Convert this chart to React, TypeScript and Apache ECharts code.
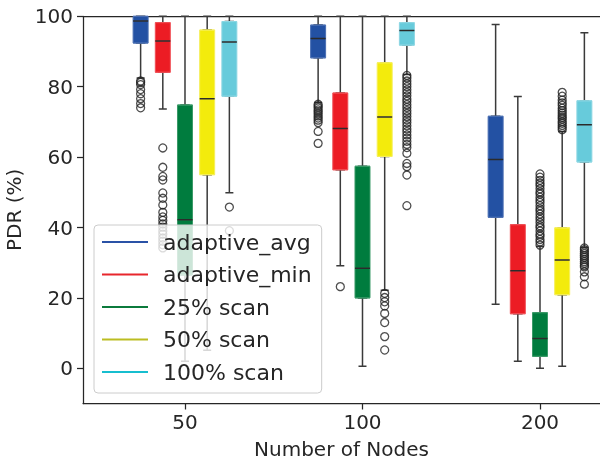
import React, { useEffect, useRef } from 'react';
import * as echarts from 'echarts';

const groups = ['50', '100', '200'];
const seriesNames = ['adaptive_avg', 'adaptive_min', '25% scan', '50% scan', '100% scan'];
const boxColors = ['#2351a3', '#ec1c24', '#007c3e', '#f3eb0c', '#67cbdb'];
const boxEdgeColors = ['#4a6fb3', '#f04f55', '#3a9a68', '#f6ef5a', '#8dd7e3'];
const legendColors = ['#2a52a6', '#e8262c', '#0b7a3c', '#bcbd22', '#17becf'];
const yTicks = [0, 20, 40, 60, 80, 100];

// [min, Q1, median, Q3, max] for groups 50, 100, 200
const adaptiveAvgStats = [
  [82.5, 92.4, 98.7, 100, 100],
  [75.5, 88.2, 93.7, 97.5, 100],
  [18.2, 42.9, 59.3, 71.6, 97.7],
];
const adaptiveMinStats = [
  [73.7, 84.1, 93.0, 98.2, 100],
  [29.1, 56.4, 68.1, 78.2, 100],
  [2.0, 15.5, 27.7, 40.8, 77.2],
];
const scan25Stats = [
  [2.0, 26.5, 42.2, 74.8, 100],
  [0.6, 20.0, 28.4, 57.4, 100],
  [0.0, 3.4, 8.5, 15.8, 34.6],
];
const scan50Stats = [
  [5.1, 55.0, 76.6, 96.1, 100],
  [22.2, 60.2, 71.4, 86.8, 100],
  [0.6, 20.9, 30.8, 39.9, 67.3],
];
const scan100Stats = [
  [49.9, 77.3, 92.7, 98.5, 100],
  [83.5, 91.8, 96.0, 98.2, 100],
  [34.4, 58.6, 69.2, 76.0, 95.3],
];

// outliers for groups 50, 100, 200
const adaptiveAvgOutliers = [
  [81.6, 81.2, 80.6, 79.2, 78.0, 76.6, 75.2, 74.0],
  [75.0, 74.5, 74.0, 73.4, 72.9, 72.3, 71.7, 71.1, 70.5, 69.8, 67.3, 63.9],
  [],
];
const adaptiveMinOutliers = [
  [62.6, 57.1, 54.5, 53.5, 49.8, 48.3, 46.4, 44.3, 43.0, 42.0, 41.0, 40.1, 39.0, 38.1, 37.0, 36.1, 35.1, 34.2],
  [23.2],
  [],
];
const scan25Outliers = [
  [],
  [],
  [35.0, 35.9, 36.6, 37.5, 38.1, 39.0, 39.9, 40.5, 41.4, 42.3, 43.0, 43.8, 44.7, 45.3, 46.2, 47.1, 47.8, 48.6, 49.5, 50.1, 51.0, 51.9, 52.6, 53.4, 54.3, 55.2],
];
const scan50Outliers = [
  [],
  [21.3, 20.1, 18.9, 17.7, 15.6, 13.0, 9.0, 5.2],
  [67.8, 68.4, 69.0, 69.6, 70.1, 70.8, 71.3, 71.9, 72.5, 73.2, 73.9, 74.7, 75.4, 76.2, 77.3, 78.4],
];
const scan100Outliers = [
  [45.8, 39.1],
  [83.2, 82.5, 81.6, 80.8, 80.0, 79.1, 78.3, 77.4, 76.5, 75.8, 74.9, 74.1, 73.2, 72.4, 71.5, 70.6, 69.8, 68.9, 68.0, 67.2, 66.3, 65.4, 64.5, 63.6, 62.7, 61.1, 58.2, 57.3, 54.9, 46.2],
  [34.2, 33.7, 33.1, 32.6, 32.0, 31.5, 30.9, 30.3, 29.8, 29.2, 28.8, 27.4, 26.0, 23.9],
];

const statsBySeries = [adaptiveAvgStats, adaptiveMinStats, scan25Stats, scan50Stats, scan100Stats];
const outliersBySeries = [adaptiveAvgOutliers, adaptiveMinOutliers, scan25Outliers, scan50Outliers, scan100Outliers];

const FONT = 'DejaVu Sans';
const TEXT = '#262626';
const DODGE = 0.125;

export default function App() {
  const ref = useRef<HTMLDivElement>(null);
  useEffect(() => {
    if (!ref.current) return;
    const chart = echarts.init(ref.current, undefined, { renderer: 'svg' });
    const xPos = (g: number, k: number) => g + (k - 2) * DODGE;

    const whiskerData: any[] = [];
    const boxData: any[] = [];
    const medianData: any[] = [];
    const outlierData: any[] = [];
    statsBySeries.forEach((stats, k) => {
      stats.forEach((s, g) => {
        const x = xPos(g, k);
        const [mn, q1, med, q3, mx] = s;
        whiskerData.push([x, mn, q1, med, q3, mx]);
        boxData.push({
          value: [x, q1, q1, med, q3, q3],
          itemStyle: { color: boxColors[k], borderColor: boxEdgeColors[k], borderWidth: 1 },
        });
        medianData.push([x, med, med, med, med, med]);
        outliersBySeries[k][g].forEach((v) => outlierData.push([x, v]));
      });
    });

    const xMin = -0.5746;
    const xMax = 2.338;
    const baseX = { type: 'value', min: xMin, max: xMax, splitLine: { show: false } };

    chart.setOption({
      animation: false,
      textStyle: { fontFamily: FONT },
      grid: { left: 83, right: 0, top: 16.3, bottom: 55.5, containLabel: false, outerBoundsMode: 'none' },
      xAxis: [
        {
          ...baseX,
          position: 'bottom',
          axisLine: { show: true, onZero: false, lineStyle: { color: TEXT, width: 1.25 } },
          axisTick: { show: true, customValues: [0, 1, 2], length: 6, lineStyle: { color: TEXT, width: 1.25 } },
          axisLabel: {
            customValues: [0, 1, 2],
            formatter: (v: number) => groups[Math.round(v)],
            fontSize: 20,
            color: TEXT,
            fontFamily: FONT,
            margin: 8,
          },
          name: 'Number of Nodes',
          nameLocation: 'middle',
          nameGap: 35,
          nameTextStyle: { fontSize: 20, color: TEXT, fontFamily: FONT },
        },
        {
          ...baseX,
          position: 'top',
          axisLine: { show: true, onZero: false, lineStyle: { color: TEXT, width: 1.25 } },
          axisTick: { show: false },
          axisLabel: { show: false },
        },
        { ...baseX, show: false },
      ],
      yAxis: {
        type: 'value',
        min: -10,
        max: 100,
        splitLine: { show: false },
        axisLine: { show: true, onZero: false, lineStyle: { color: TEXT, width: 1.25 } },
        axisTick: { show: true, customValues: yTicks, length: 6, lineStyle: { color: TEXT, width: 1.25 } },
        axisLabel: { customValues: yTicks, fontSize: 20, color: TEXT, fontFamily: FONT, margin: 10 },
        name: 'PDR (%)',
        nameLocation: 'middle',
        nameGap: 52,
        nameTextStyle: { fontSize: 20, color: TEXT, fontFamily: FONT },
      },
      legend: {
        orient: 'vertical',
        left: 94,
        top: 225,
        padding: [6, 10, 10, 8],
        itemWidth: 46,
        itemHeight: 2,
        itemGap: 10.5,
        backgroundColor: 'rgba(255,255,255,0.8)',
        borderColor: '#cccccc',
        borderWidth: 1,
        borderRadius: 4,
        selectedMode: false,
        z: 20,
        formatter: '{t|{name}}',
        textStyle: {
          rich: {
            t: { fontSize: 22, lineHeight: 22, color: TEXT, fontFamily: FONT, padding: [0, 0, 0, 10] },
          },
        },
        itemStyle: { borderWidth: 0 },
        data: seriesNames.map((n, i) => ({ name: n, icon: 'rect', itemStyle: { color: legendColors[i], borderWidth: 0 } })),
      },
      series: [
        {
          type: 'boxplot',
          name: 'whiskers',
          xAxisIndex: 0,
          boxWidth: [8, 8],
          silent: true,
          z: 2,
          itemStyle: { color: 'rgba(0,0,0,0)', borderColor: '#3a3a3a', borderWidth: 1.5 },
          data: whiskerData,
        },
        {
          type: 'boxplot',
          name: 'boxes',
          xAxisIndex: 1,
          boxWidth: [15, 15],
          silent: true,
          z: 3,
          data: boxData,
        },
        {
          type: 'boxplot',
          name: 'medians',
          xAxisIndex: 2,
          boxWidth: [15, 15],
          silent: true,
          z: 4,
          itemStyle: { color: 'rgba(0,0,0,0)', borderColor: '#2b2b2b', borderWidth: 1.5 },
          data: medianData,
        },
        {
          type: 'scatter',
          name: 'outliers',
          xAxisIndex: 0,
          symbol: 'circle',
          symbolSize: 8,
          silent: true,
          z: 5,
          itemStyle: { color: 'rgba(0,0,0,0)', borderColor: '#222222', borderWidth: 1.3 },
          data: outlierData,
        },
        ...seriesNames.map((n, i) => ({
          type: 'line',
          name: n,
          data: [],
          color: legendColors[i],
          itemStyle: { color: legendColors[i] },
          lineStyle: { color: legendColors[i] },
        })),
      ],
    });
    return () => chart.dispose();
  }, []);
  return <div ref={ref} style={{ position: 'fixed', left: 0, top: 0, width: 600, height: 459 }} />;
}
